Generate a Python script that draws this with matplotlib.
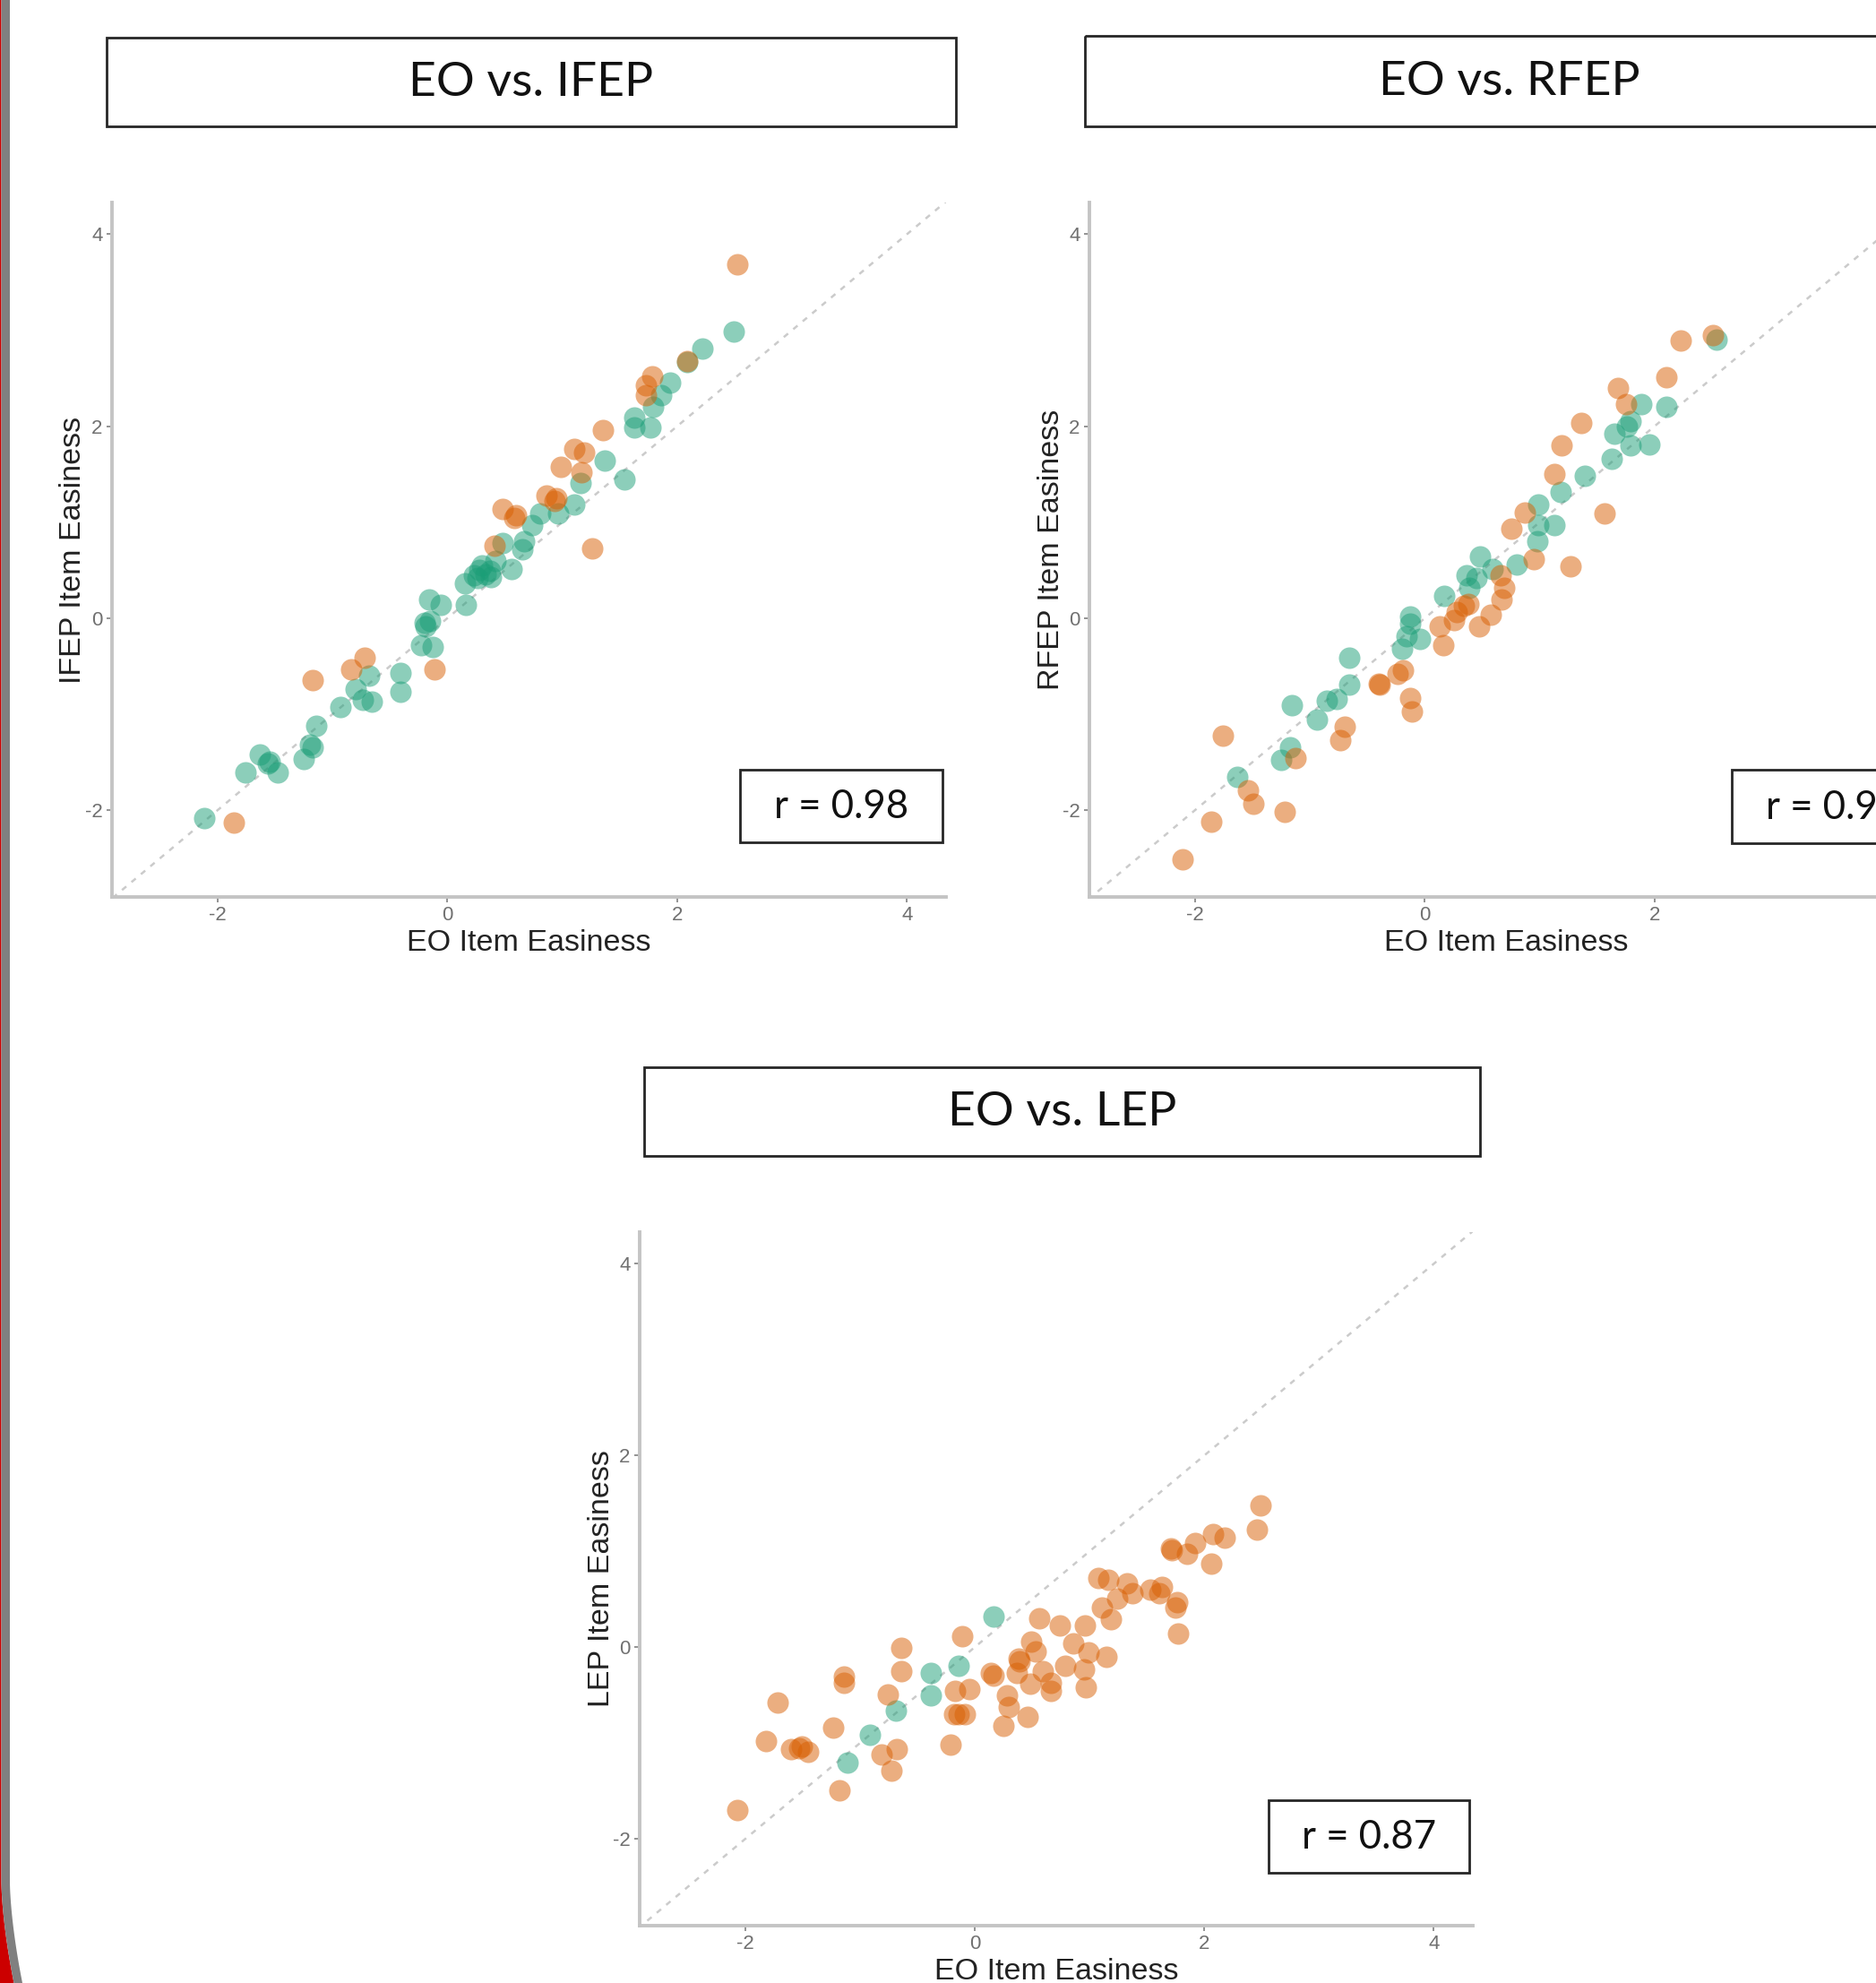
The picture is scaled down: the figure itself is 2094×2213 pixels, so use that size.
import matplotlib
matplotlib.use('Agg')
import matplotlib.pyplot as plt
from matplotlib.patches import Rectangle, Polygon
import numpy as np

plt.rcParams['font.family'] = ['Liberation Sans', 'DejaVu Sans']
plt.rcParams['axes.unicode_minus'] = False

# ---------------- data (EO easiness vs group easiness) ----------------
# Panel 1: EO vs IFEP
ifep_teal_x = [-2.12, -1.76, -1.63, -1.56, -1.48, -1.25, -1.20, -1.17, -1.14, -0.93, -0.80, -0.74,
               -0.66, -0.68, -0.41, -0.41, -0.23, -0.13, -0.19, -0.15, -0.16, -0.06, 0.16, 0.15,
               0.23, 0.30, 0.37, 0.42, 0.48, 0.56, 0.65, 0.67, 0.74, 0.81, 0.96, 1.10, 1.16,
               1.37, 1.54, 1.63, 1.63, 1.77, 1.79, 1.86, 1.94, 2.09, 2.22, 2.49,
               0.26, 0.33, 0.38, -0.20, 0.28, -1.55]
ifep_teal_y = [-2.08, -1.61, -1.42, -1.51, -1.61, -1.47, -1.32, -1.35, -1.12, -0.93, -0.74, -0.85,
               -0.87, -0.60, -0.57, -0.77, -0.28, -0.30, -0.09, -0.03, 0.19, 0.14, 0.14, 0.36,
               0.45, 0.55, 0.49, 0.60, 0.78, 0.51, 0.72, 0.80, 0.97, 1.09, 1.09, 1.18, 1.41,
               1.64, 1.45, 1.99, 2.09, 1.99, 2.20, 2.32, 2.45, 2.67, 2.81, 2.99,
               0.42, 0.46, 0.43, -0.05, 0.50, -1.50]
ifep_orange_x = [-1.86, -1.17, -0.84, -0.72, -0.11, 0.41, 0.48, 0.58, 0.60, 0.86, 0.95, 0.99,
                 1.10, 1.19, 1.17, 1.26, 1.35, 1.73, 1.73, 1.78, 2.09, 2.52, 0.93]
ifep_orange_y = [-2.13, -0.65, -0.53, -0.41, -0.53, 0.75, 1.14, 1.04, 1.07, 1.28, 1.25, 1.58,
                 1.76, 1.73, 1.52, 0.73, 1.96, 2.32, 2.43, 2.52, 2.68, 3.69, 1.22]

# Panel 2: EO vs RFEP
rfep_teal_x = [-1.63, -1.25, -1.17, -1.16, -0.94, -0.85, -0.77, -0.66, -0.66, -0.20, -0.16, -0.13,
               -0.13, -0.04, 0.17, 0.36, 0.45, 0.48, 0.59, 0.80, 0.98, 0.99, 0.99, 1.13, 1.18,
               1.39, 1.63, 1.65, 1.79, 1.79, 1.88, 1.95, 2.10, 2.54, 0.39, 1.76]
rfep_teal_y = [-1.65, -1.48, -1.35, -0.91, -1.06, -0.86, -0.84, -0.69, -0.41, -0.32, -0.19, -0.06,
               0.02, -0.22, 0.23, 0.45, 0.42, 0.64, 0.51, 0.56, 0.80, 1.18, 0.97, 0.97, 1.31,
               1.48, 1.66, 1.92, 1.80, 2.05, 2.23, 1.81, 2.20, 2.90, 0.32, 2.00]
rfep_orange_x = [-2.11, -1.86, -1.76, -1.54, -1.49, -1.22, -1.13, -0.74, -0.70, -0.39, -0.24, -0.19,
                 -0.13, -0.11, 0.13, 0.16, 0.25, 0.28, 0.34, 0.38, 0.47, 0.57, 0.67, 0.69, 0.66,
                 0.75, 0.87, 0.95, 1.13, 1.19, 1.27, 1.36, 1.56, 1.68, 1.75, 2.10, 2.23, 2.51, -0.40]
rfep_orange_y = [-2.51, -2.12, -1.22, -1.79, -1.93, -2.02, -1.46, -1.27, -1.13, -0.69, -0.58, -0.54,
                 -0.83, -0.97, -0.09, -0.28, -0.02, 0.06, 0.13, 0.15, -0.09, 0.04, 0.19, 0.32, 0.45,
                 0.93, 1.10, 0.61, 1.50, 1.80, 0.54, 2.03, 1.09, 2.40, 2.23, 2.51, 2.89, 2.95, -0.68]

# Panel 3: EO vs LEP
lep_teal_x = [-1.11, -0.91, -0.69, -0.38, -0.38, -0.14, 0.16]
lep_teal_y = [-1.20, -0.91, -0.66, -0.50, -0.27, -0.19, 0.32]
lep_orange_x = [-2.07, -1.82, -1.72, -1.60, -1.53, -1.51, -1.45, -1.23, -1.18, -1.14, -1.14, -0.76,
                -0.81, -0.68, -0.73, -0.64, -0.64, -0.21, -0.17, -0.05, -0.11, -0.18, -0.14, -0.09,
                0.14, 0.16, 0.25, 0.28, 0.30, 0.37, 0.39, 0.38, 0.46, 0.49, 0.53, 0.48, 0.59, 0.66,
                0.66, 0.56, 0.74, 0.79, 0.86, 0.95, 0.96, 0.97, 0.99, 1.15, 1.08, 1.11, 1.16, 1.19,
                1.24, 1.33, 1.37, 1.53, 1.61, 1.63, 1.76, 1.75, 1.77, 1.71, 1.72, 1.85, 1.92, 2.06,
                2.08, 2.18, 2.46, 2.49]
lep_orange_y = [-1.70, -0.98, -0.58, -1.06, -1.05, -1.04, -1.09, -0.84, -1.49, -0.31, -0.37, -0.49,
                -1.12, -1.06, -1.29, -0.01, -0.25, -1.02, -0.46, -0.44, 0.11, -0.70, -0.70, -0.70,
                -0.27, -0.30, -0.82, -0.50, -0.62, -0.27, -0.15, -0.12, -0.73, 0.06, -0.04, -0.38,
                -0.25, -0.37, -0.46, 0.30, 0.23, -0.19, 0.04, -0.23, 0.23, -0.42, -0.05, -0.10, 0.72,
                0.41, 0.70, 0.29, 0.51, 0.67, 0.56, 0.60, 0.56, 0.63, 0.47, 0.41, 0.14, 1.03, 1.01,
                0.97, 1.09, 0.87, 1.18, 1.14, 1.23, 1.48]

titles = ["EO vs. IFEP", "EO vs. RFEP", "EO vs. LEP"]
ylabels = ["IFEP Item Easiness", "RFEP Item Easiness", "LEP Item Easiness"]
xlabel = "EO Item Easiness"
r_labels = ["r = 0.98", "r = 0.96", "r = 0.87"]
ticks = [-2, 0, 2, 4]

# ---------------- layout (pixel geometry) ----------------
W, H = 2094, 2213
fig = plt.figure(figsize=(W / 100, H / 100), dpi=100)
fig.patch.set_facecolor('white')

def frac(l, t, r, b):
    return [l / W, 1 - b / H, (r - l) / W, (b - t) / H]

TEAL = '#1B9E77'
ORANGE = '#D95F02'
XLIM = (-2.92, 4.34)
YLIM = (-2.905, 4.33)

panels = [
    dict(ax=(125, 226, 1056, 1001), title=(118.5, 42, 1067, 141), rbox=(826, 859, 1052, 940),
         ylab_x=82, xs=(ifep_teal_x, ifep_orange_x), ys=(ifep_teal_y, ifep_orange_y)),
    dict(ax=(1216, 226, 2147, 1001), title=(1211, 40, 2158, 141), rbox=(1933, 859, 2159, 941),
         ylab_x=1173, xs=(rfep_teal_x, rfep_orange_x), ys=(rfep_teal_y, rfep_orange_y)),
    dict(ax=(714, 1375, 1644, 2149), title=(719, 1191, 1652, 1290), rbox=(1416, 2009, 1640, 2090),
         ylab_x=671, xs=(lep_teal_x, lep_orange_x), ys=(lep_teal_y, lep_orange_y)),
]

for i, p in enumerate(panels):
    l, t, r, b = p['ax']
    ax = fig.add_axes(frac(l, t, r, b))
    ax.set_facecolor('none')
    ax.set_xlim(*XLIM)
    ax.set_ylim(*YLIM)
    ax.plot([-4, 6], [-4, 6], color='#CBCBCB', lw=1.8, ls=(0, (2.5, 3.0)), zorder=1)
    for xs, ys, c in zip(p['xs'], p['ys'], (TEAL, ORANGE)):
        ax.scatter(xs, ys, s=300, color=c, alpha=0.5, linewidths=0, zorder=2)
    for s in ('top', 'right'):
        ax.spines[s].set_visible(False)
    for s in ('left', 'bottom'):
        ax.spines[s].set_color('#C4C4C4')
        ax.spines[s].set_linewidth(2.8)
    ax.set_xticks(ticks)
    ax.set_yticks(ticks)
    ax.tick_params(length=4, width=1.3, color='#8A8A8A', labelcolor='#707070',
                   labelsize=16, pad=3.5)

# overlay for boxes, titles, labels, border
ov = fig.add_axes([0, 0, 1, 1], zorder=10)
ov.set_xlim(0, W)
ov.set_ylim(H, 0)
ov.axis('off')
ov.patch.set_alpha(0)

for i, p in enumerate(panels):
    l, t, r, b = p['title']
    ov.add_patch(Rectangle((l, t), r - l, b - t, fill=False, edgecolor='#262626', lw=2.0))
    ov.text((l + r) / 2, (t + b) / 2 + 1, titles[i], ha='center', va='center',
            fontsize=38.5, family=['Lato', 'DejaVu Sans'], color='#111111')
    l, t, r, b = p['rbox']
    ov.add_patch(Rectangle((l, t), r - l, b - t, facecolor='white', edgecolor='#262626', lw=2.0))
    ov.text((l + r) / 2, (t + b) / 2 + 1, r_labels[i], ha='center', va='center',
            fontsize=31.5, family=['Lato', 'DejaVu Sans'], color='#111111')
    al, at, ar, ab = p['ax']
    ov.text((al + ar) / 2, ab + 60, xlabel, ha='center', va='baseline',
            fontsize=24.5, color='#222222')
    ov.text(p['ylab_x'], (at + ab) / 2, ylabels[i], ha='center', va='center', rotation=90,
            fontsize=24.5, color='#222222')

# slide border on the left (red + grey band, curving at the bottom)
yy = np.linspace(0, H, 400)
off = np.where(yy > 2100, 14 * ((yy - 2100) / (H - 2100)).clip(0, 1) ** 1.6, 0)
red = np.column_stack([np.r_[np.zeros_like(yy), (1.5 + off)[::-1]], np.r_[yy, yy[::-1]]])
grey = np.column_stack([np.r_[1.5 + off, (11 + off)[::-1]], np.r_[yy, yy[::-1]]])
ov.add_patch(Polygon(red, closed=True, facecolor='#CC0000', edgecolor='none'))
ov.add_patch(Polygon(grey, closed=True, facecolor='#808080', edgecolor='none'))

fig.savefig('out.png', dpi=100, facecolor='white')
